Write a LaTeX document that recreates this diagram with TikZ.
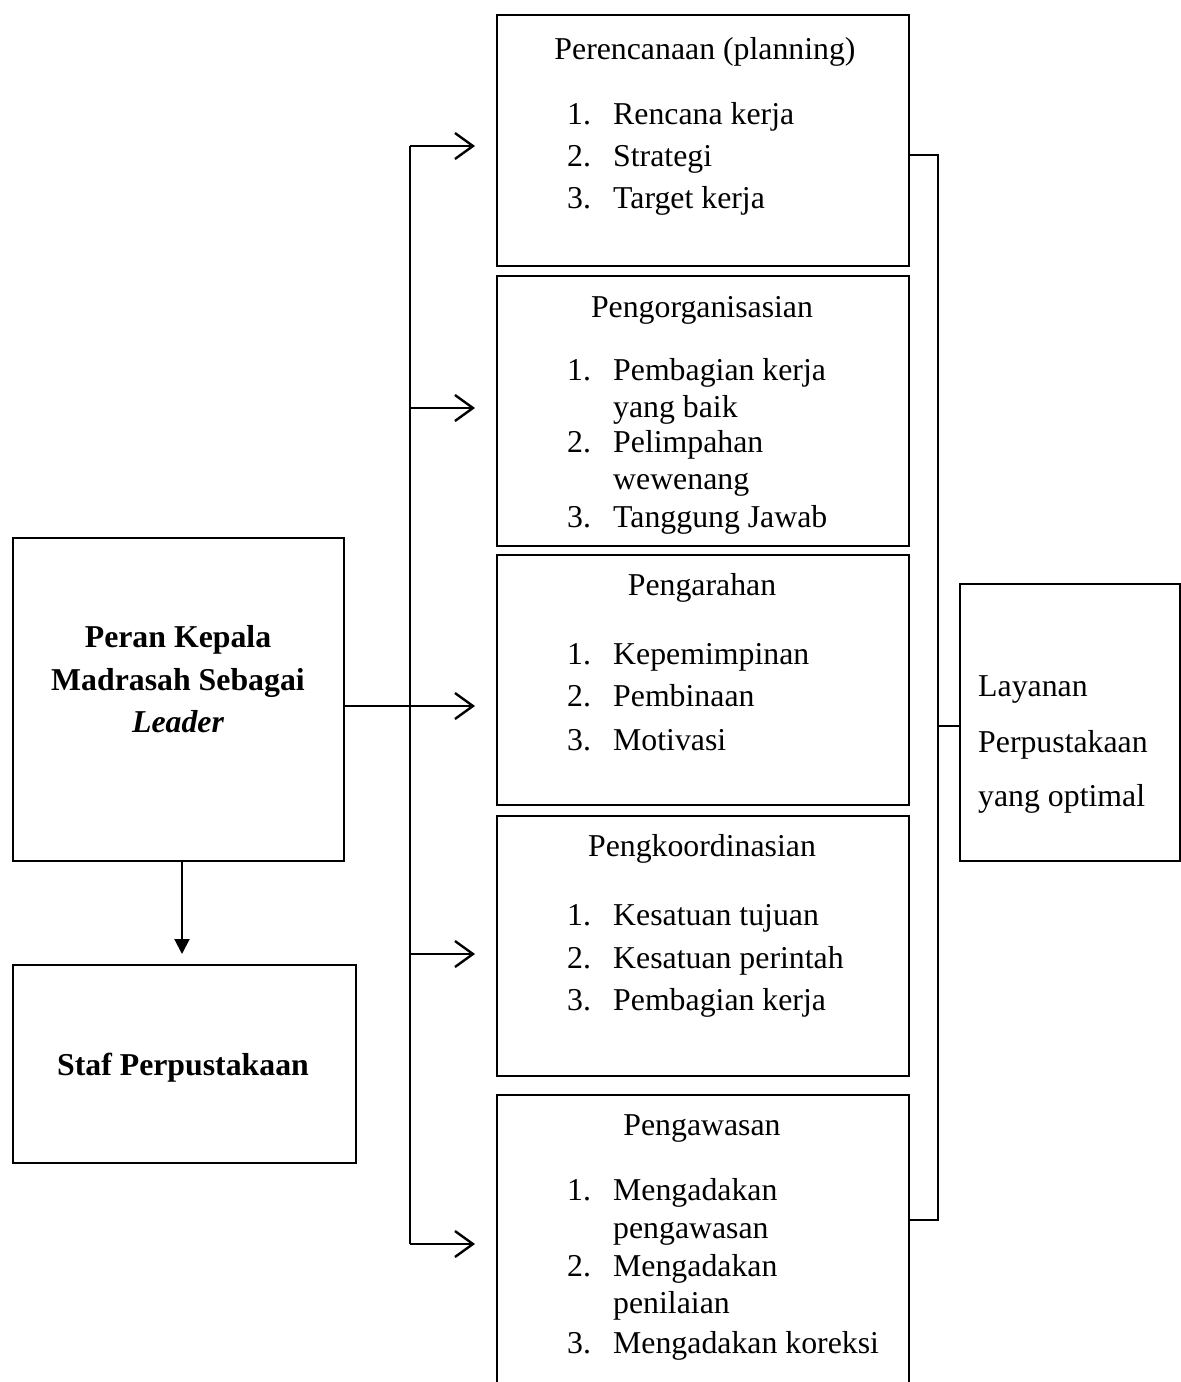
\documentclass[tikz,border=0pt]{standalone}
\usepackage{fontspec}
\setmainfont{Liberation Serif}
\usetikzlibrary{arrows.meta}
\begin{document}
\begin{tikzpicture}[x=1pt,y=-1pt,
  box/.style={draw,line width=2pt,inner sep=0pt,anchor=north west},
  txt/.style={inner sep=0pt,anchor=base west,yshift=-2pt,font=\fontsize{31.8}{38}\selectfont},
  ctxt/.style={inner sep=0pt,anchor=base,yshift=-2pt,font=\fontsize{31.8}{38}\selectfont},
  conn/.style={line width=2pt},
  open/.style={conn,-{Straight Barb[length=18pt,width=26pt,line width=2.4pt]},shorten >=21pt},
]
\clip (0,0) rectangle (1181,1382);
\fill[white] (0,0) rectangle (1181,1382);
% boxes
\node[box,minimum width=331pt,minimum height=323pt] (lead) at (12,537) {};
\node[box,minimum width=343pt,minimum height=198pt] (staf) at (12,964) {};
\node[box,minimum width=412pt,minimum height=251pt] (p1) at (496,14) {};
\node[box,minimum width=412pt,minimum height=270pt] (p2) at (496,275) {};
\node[box,minimum width=412pt,minimum height=250pt] (p3) at (496,554) {};
\node[box,minimum width=412pt,minimum height=260pt] (p4) at (496,815) {};
\node[box,minimum width=412pt,minimum height=320pt] (p5) at (496,1094) {};
\node[box,minimum width=220pt,minimum height=277pt] (lay) at (959,583) {};
% left texts
\node[ctxt,font=\fontsize{31.8}{38}\selectfont\bfseries] (l1) at (178,645) {Peran Kepala};
\node[ctxt,font=\fontsize{31.8}{38}\selectfont\bfseries] (l2) at (178,688) {Madrasah Sebagai};
\node[ctxt,font=\fontsize{31.8}{38}\selectfont\bfseries\itshape] (l3) at (178,730) {Leader};
\node[ctxt,font=\fontsize{31.8}{38}\selectfont\bfseries] (s1) at (183,1073) {Staf Perpustakaan};
% layanan
\node[txt] (y1) at (978,694) {Layanan};
\node[txt] (y2) at (978,750) {Perpustakaan};
\node[txt] (y3) at (978,804) {yang optimal};
% box 1
\node[ctxt] (a0) at (705,57) {Perencanaan (planning)};
\node[txt] (a1n) at (567,122) {1.};\node[txt] (a1) at (613,122) {Rencana kerja};
\node[txt] (a2n) at (567,164) {2.};\node[txt] (a2) at (613,164) {Strategi};
\node[txt] (a3n) at (567,206) {3.};\node[txt] (a3) at (613,206) {Target kerja};
% box 2
\node[ctxt] (b0) at (702,315) {Pengorganisasian};
\node[txt] (b1n) at (567,378) {1.};\node[txt] (b1) at (613,378) {Pembagian kerja};
\node[txt] (b1b) at (613,415) {yang baik};
\node[txt] (b2n) at (567,450) {2.};\node[txt] (b2) at (613,450) {Pelimpahan};
\node[txt] (b2b) at (613,487) {wewenang};
\node[txt] (b3n) at (567,525) {3.};\node[txt] (b3) at (613,525) {Tanggung Jawab};
% box 3
\node[ctxt] (c0) at (702,593) {Pengarahan};
\node[txt] (c1n) at (567,662) {1.};\node[txt] (c1) at (613,662) {Kepemimpinan};
\node[txt] (c2n) at (567,704) {2.};\node[txt] (c2) at (613,704) {Pembinaan};
\node[txt] (c3n) at (567,748) {3.};\node[txt] (c3) at (613,748) {Motivasi};
% box 4
\node[ctxt] (d0) at (702,854) {Pengkoordinasian};
\node[txt] (d1n) at (567,923) {1.};\node[txt] (d1) at (613,923) {Kesatuan tujuan};
\node[txt] (d2n) at (567,966) {2.};\node[txt] (d2) at (613,966) {Kesatuan perintah};
\node[txt] (d3n) at (567,1008) {3.};\node[txt] (d3) at (613,1008) {Pembagian kerja};
% box 5
\node[ctxt] (e0) at (702,1133) {Pengawasan};
\node[txt] (e1n) at (567,1198) {1.};\node[txt] (e1) at (613,1198) {Mengadakan};
\node[txt] (e1b) at (613,1236) {pengawasan};
\node[txt] (e2n) at (567,1274) {2.};\node[txt] (e2) at (613,1274) {Mengadakan};
\node[txt] (e2b) at (613,1311) {penilaian};
\node[txt] (e3n) at (567,1351) {3.};\node[txt] (e3) at (613,1351) {Mengadakan koreksi};
% connectors
\coordinate (t1) at (410,146);
\coordinate (t2) at (410,408);
\coordinate (t3) at (410,706);
\coordinate (t4) at (410,954);
\coordinate (t5) at (410,1244);
\draw[conn] (t1) -- (t5);
\draw[open] (t1) -- (p1.west |- t1);
\draw[open] (t2) -- (p2.west |- t2);
\draw[open] (lead.east |- t3) -- (p3.west |- t3);
\draw[open] (t4) -- (p4.west |- t4);
\draw[open] (t5) -- (p5.west |- t5);
\draw[conn,-{Triangle[length=15pt,width=15pt]},shorten >=10pt] ([xshift=3.5pt]lead.south) -- ([xshift=-2.5pt]staf.north);
\coordinate (r1) at (938,155);
\coordinate (r2) at (938,1220);
\coordinate (r3) at (938,726);
\draw[conn] (p1.east |- r1) -- (r1) -- (r2) -- (p5.east |- r2);
\draw[conn] (r3) -- (lay.west |- r3);
\end{tikzpicture}
\end{document}
